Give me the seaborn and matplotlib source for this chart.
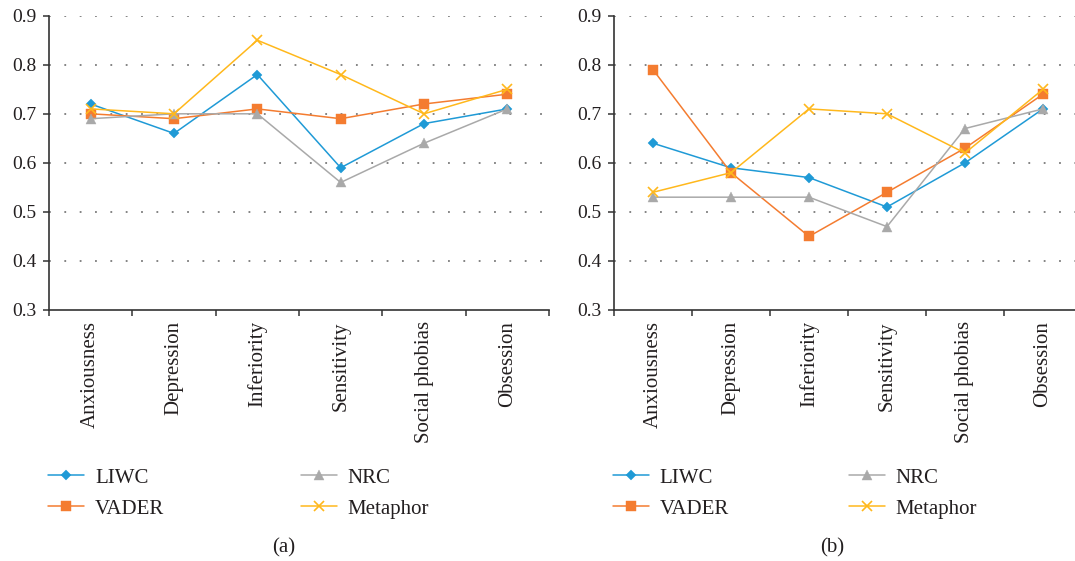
"""Line charts of per-category scores for four lexicon methods, panels (a) and (b)."""

import matplotlib.pyplot as plt
import pandas as pd
import seaborn as sns

categories = ["Anxiousness", "Depression", "Inferiority", "Sensitivity", "Social phobias", "Obsession"]
methods = ["LIWC", "VADER", "NRC", "Metaphor"]

# panel (a)
liwc_a = [0.72, 0.66, 0.78, 0.59, 0.68, 0.71]
vader_a = [0.70, 0.69, 0.71, 0.69, 0.72, 0.74]
nrc_a = [0.69, 0.70, 0.70, 0.56, 0.64, 0.71]
metaphor_a = [0.71, 0.70, 0.85, 0.78, 0.70, 0.75]

# panel (b)
liwc_b = [0.64, 0.59, 0.57, 0.51, 0.60, 0.71]
vader_b = [0.79, 0.58, 0.45, 0.54, 0.63, 0.74]
nrc_b = [0.53, 0.53, 0.53, 0.47, 0.67, 0.71]
metaphor_b = [0.54, 0.58, 0.71, 0.70, 0.62, 0.75]

y_ticks = [0.3, 0.4, 0.5, 0.6, 0.7, 0.8, 0.9]

palette = {"LIWC": "#1f9ad6", "VADER": "#f47c30", "NRC": "#a9a9a9", "Metaphor": "#ffb81c"}
markers = {"LIWC": "D", "VADER": "s", "NRC": "^", "Metaphor": "x"}
msizes = {"LIWC": 5.2, "VADER": 7, "NRC": 7, "Metaphor": 7.5}

sns.set_style("white")
plt.rcParams["font.family"] = ["Liberation Serif", "DejaVu Serif"]
TEXT = "#231f20"


def to_long(series):
    rows = []
    for name, vals in zip(methods, series):
        for cat, v in zip(categories, vals):
            rows.append({"category": cat, "method": name, "score": v})
    return pd.DataFrame(rows)


def draw_panel(ax, df, legend_anchor, colspace):
    for name in methods:
        sub = df[df["method"] == name]
        sns.lineplot(
            data=sub, x="category", y="score", ax=ax, color=palette[name],
            marker=markers[name], markersize=msizes[name], linewidth=1.1,
            markeredgewidth=1.2 if name == "Metaphor" else 0.3,
            markeredgecolor=palette[name], label=name, sort=False,
        )
    ax.set_xlim(-0.5, 5.5)
    ax.set_ylim(0.3, 0.9)
    ax.set_yticks(y_ticks)
    ax.set_yticklabels([f"{t:.1f}" for t in y_ticks], fontsize=14, color=TEXT)
    ax.set_xticks([i - 0.5 for i in range(7)])
    ax.set_xticklabels([])
    ax.set_xticks(range(len(categories)), minor=True)
    ax.set_xticklabels(categories, minor=True, rotation=90, fontsize=15, color=TEXT, va="top")
    ax.tick_params(axis="x", which="minor", bottom=True, length=0, pad=8)
    ax.tick_params(axis="both", which="major", bottom=True, left=True, direction="out",
                   length=4, width=1.1, color="#333333")
    ax.tick_params(axis="y", pad=5)
    ax.set_xlabel("")
    ax.set_ylabel("")
    for g in y_ticks[1:]:
        ax.axhline(g, color="#7a7a7a", linewidth=1.3, linestyle=(0, (1, 7.5)), zorder=0)
    sns.despine(ax=ax)
    ax.spines["left"].set_color("#333333")
    ax.spines["bottom"].set_color("#333333")
    ax.spines["left"].set_linewidth(1.2)
    ax.spines["bottom"].set_linewidth(1.2)
    handles, labels = ax.get_legend_handles_labels()
    ax.legend(
        handles, labels, ncol=2, frameon=False, fontsize=15,
        loc="upper left", bbox_to_anchor=legend_anchor, bbox_transform=ax.figure.transFigure,
        borderpad=0, borderaxespad=0, handlelength=1.75, handletextpad=0.5,
        labelspacing=0.55, columnspacing=colspace, labelcolor=TEXT,
    )


fig = plt.figure(figsize=(10.75, 5.61), dpi=100)
W, H = 1075, 561
ax_a = fig.add_axes([49 / W, 1 - 310 / H, 500 / W, 294.3 / H])
ax_b = fig.add_axes([614 / W, 1 - 310 / H, 468 / W, 294.3 / H])

draw_panel(ax_a, to_long([liwc_a, vader_a, nrc_a, metaphor_a]), (48 / W, 1 - 468 / H), 6.55)
draw_panel(ax_b, to_long([liwc_b, vader_b, nrc_b, metaphor_b]), (613 / W, 1 - 468 / H), 5.75)

fig.text(284 / W, 1 - 548 / H, "(a)", ha="center", va="center", fontsize=15, color=TEXT)
fig.text(832 / W, 1 - 548 / H, "(b)", ha="center", va="center", fontsize=15, color=TEXT)

plt.savefig("out.png", dpi=100)
plt.close(fig)
